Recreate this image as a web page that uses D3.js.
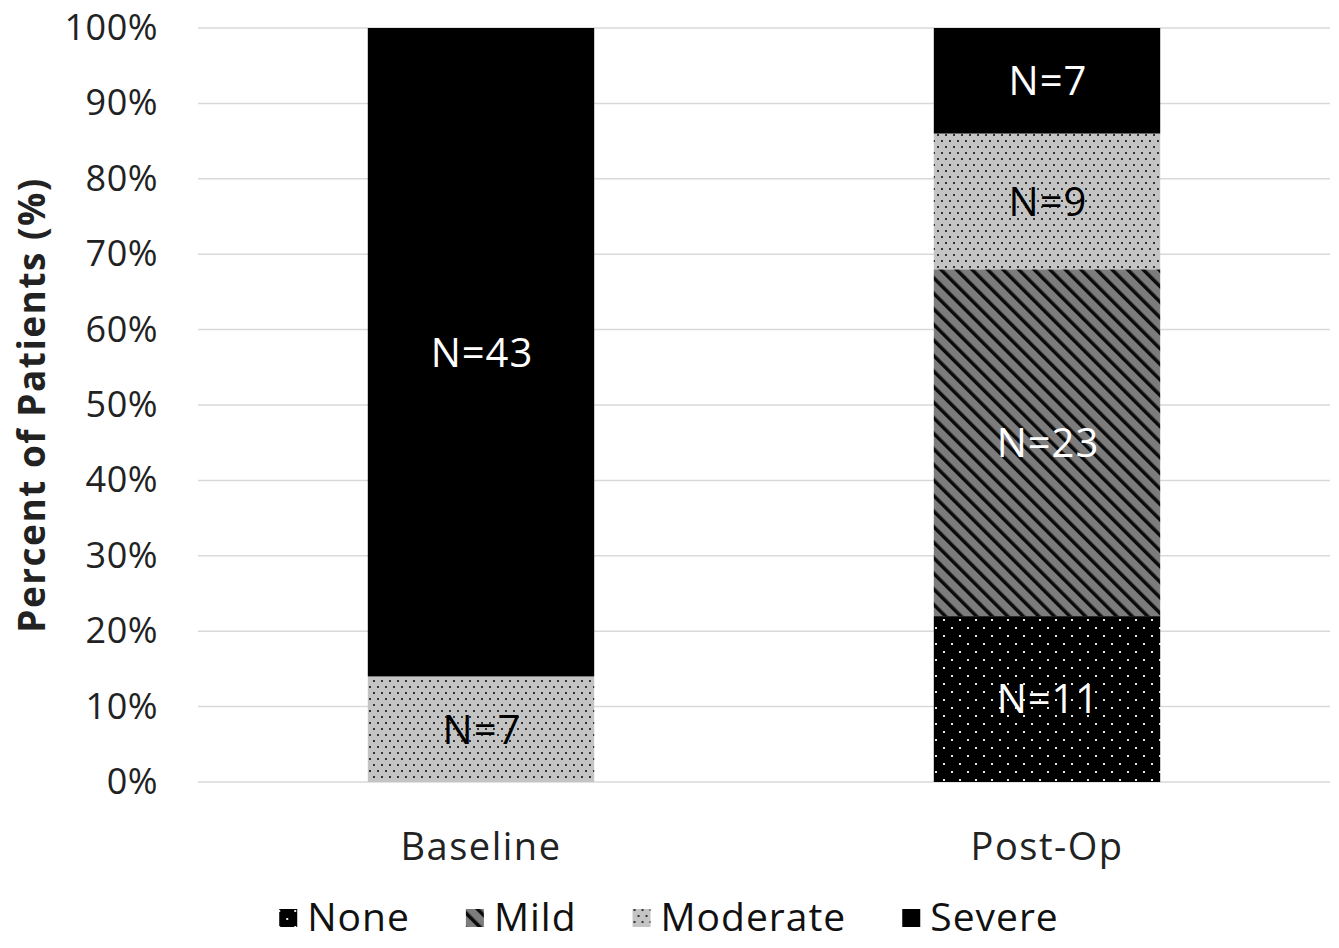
<!DOCTYPE html>
<html>
<head>
<meta charset="utf-8">
<script src="https://cdn.jsdelivr.net/npm/d3@7"></script>
<style>
  html, body { margin: 0; padding: 0; background: #fff; }
  svg { display: block; font-family: "Open Sans", "Noto Sans", sans-serif; }
</style>
</head>
<body>
<svg id="chart" width="1339" height="948"></svg>
<script>
// Patient counts by symptom severity, per time point
const groups = ["Baseline", "Post-Op"];
const severities = ["None", "Mild", "Moderate", "Severe"];
const baselineCounts = [0, 0, 7, 43];
const postOpCounts = [11, 23, 9, 7];
const yTicks = [0, 10, 20, 30, 40, 50, 60, 70, 80, 90, 100];

const countsByGroup = { "Baseline": baselineCounts, "Post-Op": postOpCounts };
const labelColor = { None: "#fff", Mild: "#fff", Moderate: "#000", Severe: "#fff" };

const svg = d3.select("#chart");
const W = 1339, H = 948;
const margin = { left: 198, right: 9, top: 28, bottom: 166 };
const FONT = "\"Open Sans\", \"Noto Sans\", sans-serif";

// --- fill patterns ---
const defs = svg.append("defs");

// None: black with a staggered grid of white dots
const pNone = defs.append("pattern").attr("id", "pat-None")
  .attr("patternUnits", "userSpaceOnUse").attr("width", 16).attr("height", 16);
pNone.append("rect").attr("width", 16).attr("height", 16).attr("fill", "#000");
pNone.append("rect").attr("x", 7).attr("y", 3).attr("width", 2).attr("height", 2).attr("fill", "#e8e8e8");
pNone.append("rect").attr("x", 15).attr("y", 11).attr("width", 2).attr("height", 2).attr("fill", "#e8e8e8");
pNone.append("rect").attr("x", -1).attr("y", 11).attr("width", 2).attr("height", 2).attr("fill", "#e8e8e8");

// Mild: gray with black diagonal stripes running down to the right
const pMild = defs.append("pattern").attr("id", "pat-Mild")
  .attr("patternUnits", "userSpaceOnUse").attr("width", 11).attr("height", 11)
  .attr("patternTransform", "rotate(-45)");
pMild.append("rect").attr("width", 11).attr("height", 11).attr("fill", "#7c7c7c");
pMild.append("rect").attr("x", 0).attr("y", 0).attr("width", 3.5).attr("height", 11).attr("fill", "#0a0a0a");

// Moderate: light gray with small dark dots
const pMod = defs.append("pattern").attr("id", "pat-Moderate")
  .attr("patternUnits", "userSpaceOnUse").attr("width", 8).attr("height", 12);
pMod.append("rect").attr("width", 8).attr("height", 12).attr("fill", "#c4c4c4");
pMod.append("rect").attr("x", 1).attr("y", 2).attr("width", 2).attr("height", 2).attr("fill", "#333");
pMod.append("rect").attr("x", 5).attr("y", 8).attr("width", 2).attr("height", 2).attr("fill", "#333");

// Severe: solid black
const pSev = defs.append("pattern").attr("id", "pat-Severe")
  .attr("patternUnits", "userSpaceOnUse").attr("width", 4).attr("height", 4);
pSev.append("rect").attr("width", 4).attr("height", 4).attr("fill", "#000");

// --- scales ---
const x = d3.scaleBand().domain(groups)
  .range([margin.left, W - margin.right])
  .paddingInner(0.6).paddingOuter(0.3);
const y = d3.scaleLinear().domain([0, 100]).range([H - margin.bottom, margin.top]);

// --- gridlines ---
svg.append("g").selectAll("line").data(yTicks).join("line")
  .attr("x1", margin.left).attr("x2", W - margin.right)
  .attr("y1", d => y(d)).attr("y2", d => y(d))
  .attr("stroke", "#d9d9d9").attr("stroke-width", 1.5);

// --- y axis labels ---
const yAxis = d3.axisLeft(y).tickValues(yTicks).tickFormat(d => d + "%").tickSize(0).tickPadding(0);
const yg = svg.append("g").attr("transform", `translate(158,0)`).call(yAxis);
yg.select(".domain").remove();
yg.selectAll("text").attr("font-size", 36).attr("fill", "#222")
  .attr("letter-spacing", 0.5).attr("font-family", FONT);

svg.append("text")
  .attr("transform", `translate(45,${(y(0) + y(100)) / 2}) rotate(-90)`)
  .attr("text-anchor", "middle")
  .attr("font-size", 37).attr("font-weight", "bold").attr("fill", "#222")
  .attr("letter-spacing", 1.5)
  .text("Percent of Patients (%)");

// --- x axis labels ---
const xAxis = d3.axisBottom(x).tickSize(0).tickPadding(0);
const xg = svg.append("g").attr("transform", `translate(0,860)`).call(xAxis);
xg.select(".domain").remove();
xg.selectAll("text").attr("font-size", 38).attr("fill", "#222")
  .attr("dy", 0).attr("y", 0).attr("letter-spacing", 1.5)
  .attr("font-family", FONT);

// --- stacked bars ---
const rows = groups.map(g => {
  const counts = countsByGroup[g];
  const total = d3.sum(counts);
  const r = { group: g };
  severities.forEach((s, i) => { r[s] = counts[i] / total * 100; r["n_" + s] = counts[i]; });
  return r;
});
const stack = d3.stack().keys(severities)(rows);

const layers = svg.append("g").selectAll("g").data(stack).join("g")
  .attr("fill", d => `url(#pat-${d.key})`);

layers.selectAll("rect").data(d => d.map(v => ({ key: d.key, v }))).join("rect")
  .attr("x", d => x(d.v.data.group))
  .attr("width", x.bandwidth())
  .attr("y", d => y(d.v[1]))
  .attr("height", d => y(d.v[0]) - y(d.v[1]));

// --- segment labels ---
const labels = [];
stack.forEach(layer => layer.forEach(v => {
  const n = v.data["n_" + layer.key];
  if (n > 0) labels.push({ key: layer.key, group: v.data.group, mid: (v[0] + v[1]) / 2, n });
}));
svg.append("g").selectAll("text").data(labels).join("text")
  .attr("x", d => x(d.group) + x.bandwidth() / 2 + 1)
  .attr("y", d => y(d.mid))
  .attr("dy", "0.36em")
  .attr("text-anchor", "middle")
  .attr("font-size", 40)
  .attr("letter-spacing", 1)
  .attr("fill", d => labelColor[d.key])
  .text(d => "N=" + d.n);

// --- legend ---
const legend = svg.append("g").attr("transform", `translate(0,931)`);
const items = legend.selectAll("g").data(severities).join("g");
items.append("rect").attr("width", 18).attr("height", 18).attr("y", -22)
  .attr("fill", d => `url(#pat-${d})`);
items.append("text").attr("x", 28).attr("font-size", 39).attr("fill", "#111")
  .attr("letter-spacing", 1).text(d => d);
const widths = [];
items.each(function () { widths.push(this.getBBox().width); });
const gap = 56;
const totalW = d3.sum(widths) + gap * (widths.length - 1);
let cx = 669 - totalW / 2;
items.attr("transform", (d, i) => {
  const t = `translate(${cx},0)`; cx += widths[i] + gap; return t;
});
</script>
</body>
</html>
